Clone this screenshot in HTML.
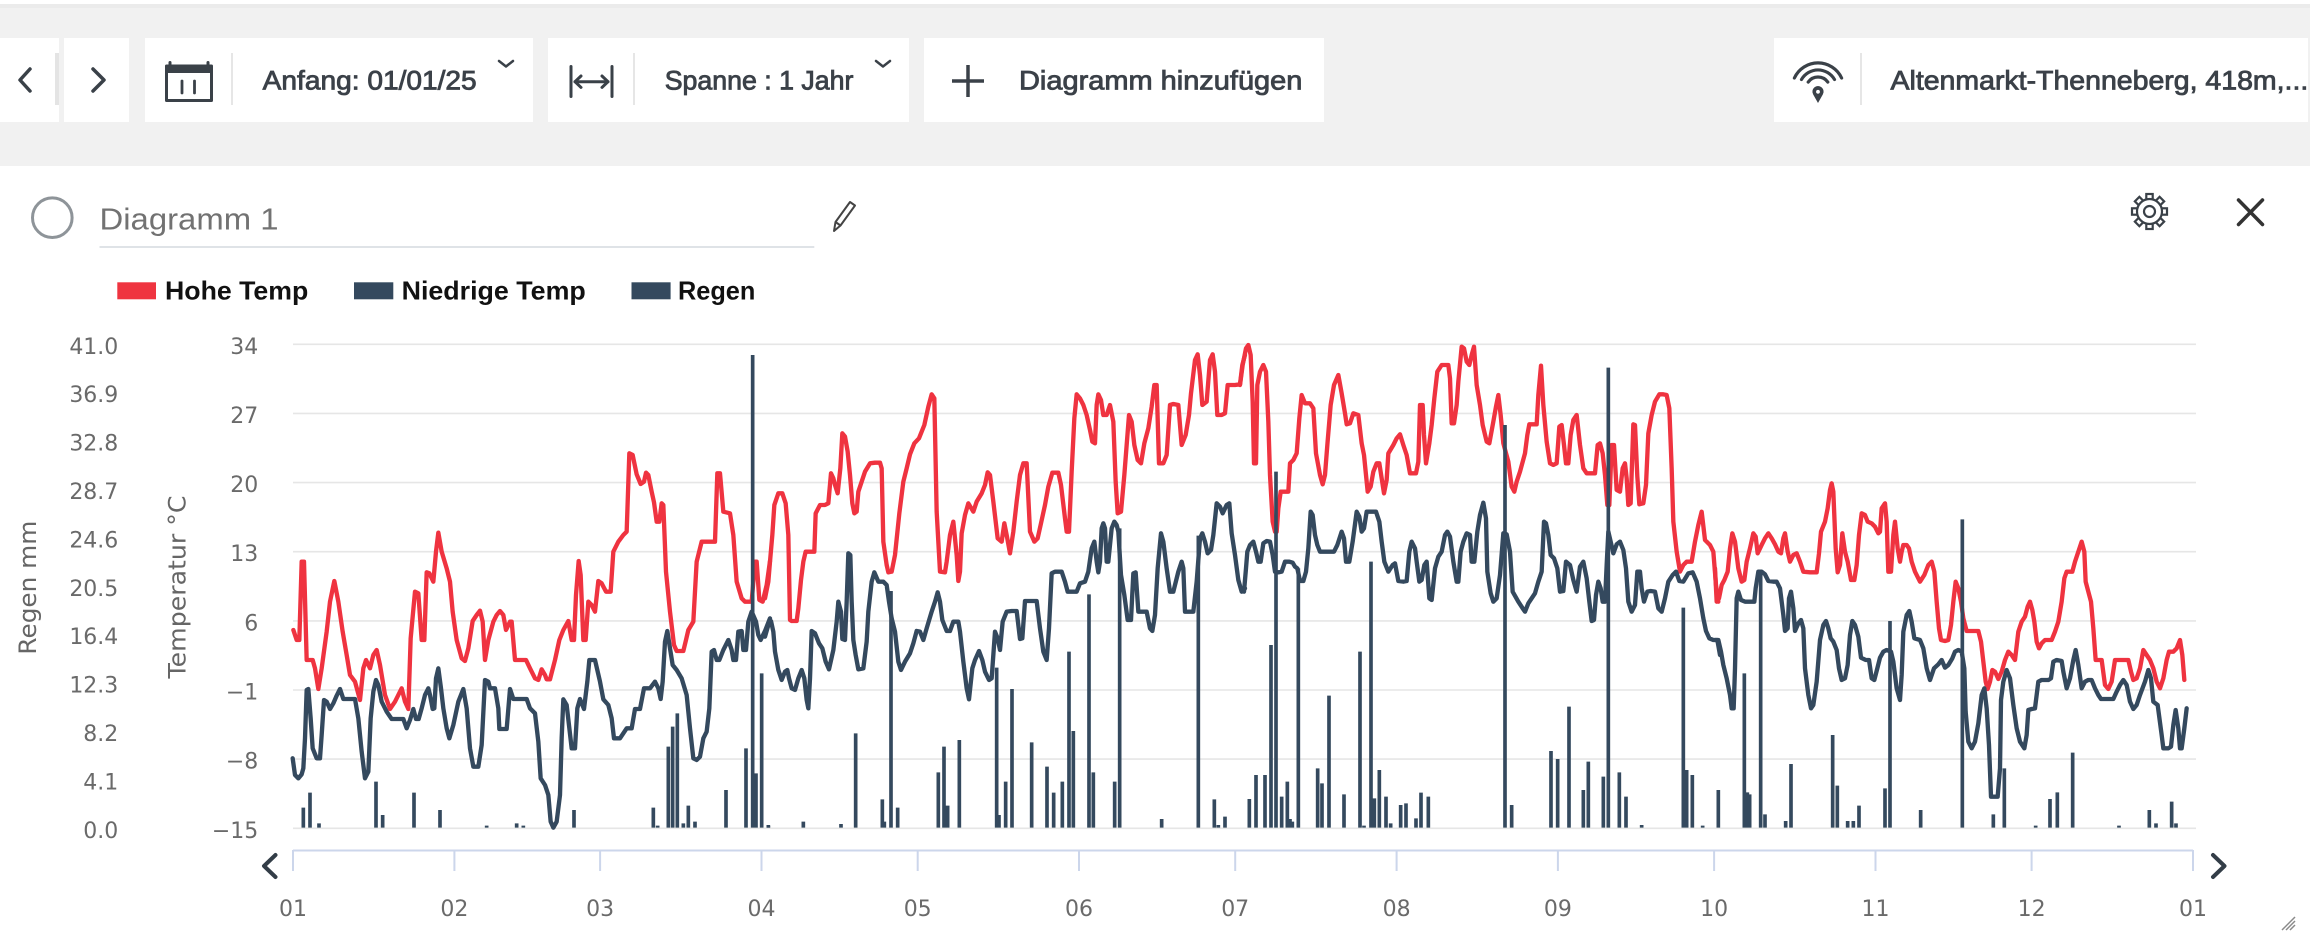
<!DOCTYPE html>
<html><head><meta charset="utf-8"><style>
html,body{margin:0;padding:0;background:#fff;width:2310px;height:937px;overflow:hidden}
svg{display:block}
.tb{font-family:"Liberation Sans",sans-serif;font-size:27px;fill:#3b4148;stroke:#3b4148;stroke-width:0.85}
.lg{font-family:"Liberation Sans",sans-serif;font-size:26px;font-weight:bold;fill:#111}
.ax{font-family:"DejaVu Sans","Liberation Sans",sans-serif;font-size:22px;fill:#6a6a6a}
.ti{font-family:"DejaVu Sans","Liberation Sans",sans-serif;font-size:24px;fill:#666}
</style></head><body>
<svg width="2310" height="937" viewBox="0 0 2310 937" xmlns="http://www.w3.org/2000/svg">
<!-- toolbar band -->
<rect x="0" y="4" width="2310" height="162" fill="#f1f1f1"/>
<rect x="0" y="4" width="2310" height="4" fill="#ebebeb"/>
<rect x="0" y="38" width="59" height="84" fill="#fff"/>
<rect x="55" y="53" width="4" height="52" fill="#e4e4e4"/>
<rect x="64" y="38" width="65" height="84" fill="#fff"/>
<rect x="145" y="38" width="388" height="84" fill="#fff"/>
<rect x="548" y="38" width="361" height="84" fill="#fff"/>
<rect x="924" y="38" width="400" height="84" fill="#fff"/>
<rect x="1774" y="38" width="534" height="84" fill="#fff"/>
<g stroke="#e6e6e6" stroke-width="2">
<line x1="232" y1="53" x2="232" y2="105"/>
<line x1="634" y1="53" x2="634" y2="105"/>
<line x1="1861" y1="53" x2="1861" y2="105"/>
</g>
<g fill="none" stroke="#3a4148" stroke-linecap="round" stroke-linejoin="round">
<polyline points="30,69 20,80 30,91" stroke-width="3.5"/>
<polyline points="93,69 104,80 93,91" stroke-width="3.5"/>
<!-- calendar -->
<rect x="166.5" y="66" width="45" height="34.5" stroke-width="3" stroke-linecap="butt"/>
<rect x="166.5" y="66" width="45" height="7" fill="#3a4148" stroke-width="0"/>
<line x1="170" y1="62.5" x2="170" y2="67" stroke-width="3"/>
<line x1="208" y1="62.5" x2="208" y2="67" stroke-width="3"/>
<line x1="182" y1="81" x2="182" y2="93" stroke-width="2.8"/>
<line x1="194.5" y1="81" x2="194.5" y2="93" stroke-width="2.8"/>
<polyline points="499,61 506,66.5 513,61" stroke-width="2.5"/>
<!-- span icon -->
<line x1="571" y1="66.5" x2="571" y2="96.5" stroke-width="3"/>
<line x1="612" y1="66.5" x2="612" y2="96.5" stroke-width="3"/>
<line x1="575" y1="81.7" x2="608" y2="81.7" stroke-width="3"/>
<polyline points="581,76 575,81.7 581,87.4" stroke-width="3"/>
<polyline points="602,76 608,81.7 602,87.4" stroke-width="3"/>
<polyline points="876,61 883,66.5 890,61" stroke-width="2.5"/>
<!-- plus -->
<line x1="968" y1="65" x2="968" y2="97" stroke-width="3.5" stroke-linecap="butt"/>
<line x1="952" y1="81" x2="984" y2="81" stroke-width="3.5" stroke-linecap="butt"/>
<!-- location -->
<path d="M1794.4 78 A26 26 0 0 1 1841.6 78" stroke-width="3.2"/>
<path d="M1801.5 79.5 A19 19 0 0 1 1834.5 79.5" stroke-width="3.2"/>
<path d="M1808.2 82.1 A12 12 0 0 1 1827.8 82.1" stroke-width="3.2"/>
</g>
<path d="M1818 103 L1813.2 94.5 A5.6 5.6 0 1 1 1822.8 94.5 Z" fill="#3a4148"/>
<circle cx="1818" cy="91.8" r="1.9" fill="#fff"/>
<text class="tb" x="262.7" y="89.3" textLength="214" lengthAdjust="spacingAndGlyphs">Anfang: 01/01/25</text>
<text class="tb" x="664.7" y="89.3" textLength="188.7" lengthAdjust="spacingAndGlyphs">Spanne : 1 Jahr</text>
<text class="tb" x="1019" y="89.3" textLength="283.4" lengthAdjust="spacingAndGlyphs">Diagramm hinzufügen</text>
<text class="tb" x="1890.5" y="89.3" textLength="417.8" lengthAdjust="spacingAndGlyphs">Altenmarkt-Thenneberg, 418m,...</text>

<!-- title row -->
<circle cx="52.3" cy="217.7" r="19.8" fill="none" stroke="#8e9499" stroke-width="3"/>
<text x="99.5" y="229.3" font-family="Liberation Sans, sans-serif" font-size="31" fill="#727272" textLength="179" lengthAdjust="spacingAndGlyphs">Diagramm 1</text>
<line x1="99.5" y1="247" x2="814.3" y2="247" stroke="#dfe3e7" stroke-width="2"/>
<g fill="none" stroke="#444" stroke-width="2" stroke-linejoin="round">
<path d="M834 231 L835.5 222 L850 202 L855 205.5 L840.5 225.5 Z"/>
<line x1="835.5" y1="222" x2="840.5" y2="225.5"/>
</g>
<g transform="translate(2149.5,211.5)" stroke="#3a4148" stroke-width="2.2" fill="#fff">
<rect x="-3.2" y="-17.5" width="6.4" height="7" transform="rotate(0)"/>
<rect x="-3.2" y="-17.5" width="6.4" height="7" transform="rotate(45)"/>
<rect x="-3.2" y="-17.5" width="6.4" height="7" transform="rotate(90)"/>
<rect x="-3.2" y="-17.5" width="6.4" height="7" transform="rotate(135)"/>
<rect x="-3.2" y="-17.5" width="6.4" height="7" transform="rotate(180)"/>
<rect x="-3.2" y="-17.5" width="6.4" height="7" transform="rotate(225)"/>
<rect x="-3.2" y="-17.5" width="6.4" height="7" transform="rotate(270)"/>
<rect x="-3.2" y="-17.5" width="6.4" height="7" transform="rotate(315)"/>
<circle r="12.5" />
<circle r="5.5" fill="none"/>
</g>
<g stroke="#333" stroke-width="3.5" stroke-linecap="round">
<line x1="2238.5" y1="200" x2="2262.5" y2="224.5"/>
<line x1="2262.5" y1="200" x2="2238.5" y2="224.5"/>
</g>

<!-- legend -->
<rect x="117.3" y="282.3" width="38.7" height="17" fill="#ef3440"/>
<text class="lg" x="165" y="299.3" textLength="143.3" lengthAdjust="spacingAndGlyphs">Hohe Temp</text>
<rect x="354" y="282.3" width="39.3" height="17" fill="#34495e"/>
<text class="lg" x="401.6" y="299.3" textLength="184.2" lengthAdjust="spacingAndGlyphs">Niedrige Temp</text>
<rect x="631.5" y="282.3" width="39.1" height="17" fill="#34495e"/>
<text class="lg" x="678" y="299.3" textLength="77.3" lengthAdjust="spacingAndGlyphs">Regen</text>

<!-- gridlines -->
<g stroke="#e6e6e6" stroke-width="1.6">
<line x1="293" y1="344.3" x2="2196" y2="344.3"/>
<line x1="293" y1="413.4" x2="2196" y2="413.4"/>
<line x1="293" y1="482.6" x2="2196" y2="482.6"/>
<line x1="293" y1="551.7" x2="2196" y2="551.7"/>
<line x1="293" y1="620.9" x2="2196" y2="620.9"/>
<line x1="293" y1="690" x2="2196" y2="690"/>
<line x1="293" y1="759.1" x2="2196" y2="759.1"/>
<line x1="293" y1="828.3" x2="2196" y2="828.3"/>
</g>

<!-- axis labels -->
<g class="ax" text-anchor="end">
<text x="118.3" y="353.8">41.0</text>
<text x="118.3" y="402.2">36.9</text>
<text x="118.3" y="450.6">32.8</text>
<text x="118.3" y="499">28.7</text>
<text x="118.3" y="547.4">24.6</text>
<text x="118.3" y="595.8">20.5</text>
<text x="118.3" y="644.2">16.4</text>
<text x="118.3" y="692.6">12.3</text>
<text x="118.3" y="741">8.2</text>
<text x="118.3" y="789.4">4.1</text>
<text x="118.3" y="837.8">0.0</text>
<text x="258.3" y="353.8">34</text>
<text x="258.3" y="422.9">27</text>
<text x="258.3" y="492.1">20</text>
<text x="258.3" y="561.2">13</text>
<text x="258.3" y="630.4">6</text>
<text x="258.3" y="699.5">−1</text>
<text x="258.3" y="768.6">−8</text>
<text x="258.3" y="837.8">−15</text>
</g>
<text class="ti" transform="translate(36,587.6) rotate(-90)" text-anchor="middle" textLength="134" lengthAdjust="spacingAndGlyphs">Regen mm</text>
<text class="ti" transform="translate(185.5,587) rotate(-90)" text-anchor="middle" textLength="183" lengthAdjust="spacingAndGlyphs">Temperatur °C</text>

<!-- data -->
<g fill="none" stroke-linejoin="round" stroke-linecap="round" stroke-width="13">
<g transform="translate(290,335) scale(0.33333)">
<polyline stroke="#ef3340" points="10,885 20,915 28,915 35,680 42,680 50,975 68,975 75,1000 85,1062 95,1000 110,890 120,800 133,738 145,800 158,890 170,960 180,1020 195,1040 210,1095 220,1000 228,975 240,1000 250,960 260,945 270,990 285,1080 300,1122 315,1100 335,1060 345,1100 355,1122 362,910 375,770 385,775 395,915 403,915 410,712 418,715 430,740 438,650 445,593 455,650 470,700 480,740 488,830 500,915 515,970 525,978 535,940 548,858 560,840 570,827 578,860 585,975 595,915 610,860 620,840 630,828 640,840 648,885 660,860 665,860 675,975 690,975 708,975 720,1000 735,1030 745,1035 755,1003 765,1020 770,1033 780,1033 795,975 808,915 820,885 835,858 845,915 852,915 858,780 866,678 872,720 880,915 887,915 895,800 905,810 915,830 925,738 935,745 948,770 962,770 970,650 985,620 1000,600 1010,590 1018,355 1028,360 1040,418 1052,447 1062,440 1068,413 1075,420 1085,470 1092,502 1100,560 1108,560 1115,505 1120,510 1128,710 1140,830 1152,930 1160,948 1170,948 1180,948 1188,915 1195,885 1210,860 1220,680 1235,620 1255,620 1275,620 1282,415 1290,415 1300,530 1320,535 1330,600 1340,740 1355,790 1365,800 1385,800 1395,680 1400,680 1408,795 1418,800 1430,750 1440,678"/>
<polyline stroke="#34495e" points="8,1270 15,1320 25,1330 35,1318 40,1300 45,1210 50,1065 55,1062 62,1150 68,1240 80,1270 90,1270 95,1200 102,1095 110,1100 120,1122 130,1105 140,1082 150,1062 160,1092 175,1092 195,1092 205,1150 215,1250 225,1330 235,1310 242,1150 250,1070 258,1035 265,1050 275,1100 290,1130 305,1152 325,1152 340,1152 350,1180 360,1155 370,1122 378,1152 386,1152 395,1120 405,1080 415,1060 420,1080 428,1122 433,1120 438,1030 445,1000 453,1060 460,1120 470,1180 478,1210 490,1170 505,1100 520,1062 530,1120 540,1240 550,1295 565,1295 575,1230 585,1035 595,1040 600,1060 615,1060 625,1120 628,1182 650,1182 660,1062 670,1092 690,1092 710,1092 720,1120 735,1135 745,1220 752,1330 765,1350 775,1380 782,1460 790,1478 800,1460 810,1380 815,1210 820,1093 830,1110 845,1240 855,1240 862,1120 870,1092 882,1122 892,1040 898,975 915,975 930,1040 940,1093 955,1110 965,1150 972,1210 990,1210 1000,1195 1010,1180 1025,1180 1035,1122 1050,1122 1062,1060 1080,1060 1095,1040 1105,1060 1112,1092 1118,1040 1125,920 1132,888 1140,940 1148,990 1160,1005 1175,1030 1190,1080 1200,1180 1210,1270 1220,1275 1230,1265 1240,1210 1250,1190 1258,1120 1265,950 1272,945 1280,975 1288,975 1300,945 1315,915 1325,945 1330,975 1338,975 1345,890 1355,888 1360,945 1368,945 1375,860 1385,830 1398,860 1405,900 1412,915 1425,888 1440,850"/>
<path stroke="#34495e" stroke-width="11" stroke-linecap="butt" d="M40 1418V1478M60 1373V1478M87 1465V1478M258 1340V1478M278 1440V1478M372 1373V1478M450 1425V1478M590 1472V1478M680 1465V1478M700 1472V1478M852 1425V1478M1090 1418V1478M1103 1472V1478M1135 1235V1478M1148 1175V1478M1162 1135V1478M1180 1465V1478M1195 1412V1478M1215 1460V1478M1308 1365V1478M1368 1240V1478M1388 60V1478M1398 1315V1478M1415 1015V1478M1435 1470V1478"/>
</g>
<g transform="translate(765,335) scale(0.33333)">
<polyline stroke="#ef3340" points="0,790 10,740 15,680 22,600 28,510 40,475 52,475 62,505 70,600 75,855 80,858 95,858 100,820 108,735 115,680 122,650 135,650 148,650 152,535 165,510 180,510 190,505 198,415 205,430 210,450 218,475 226,400 232,295 240,305 248,350 255,420 262,505 268,535 275,530 280,470 290,440 300,410 315,385 330,383 345,383 350,400 355,620 365,690 370,712 380,710 390,660 403,535 415,440 425,400 435,358 448,325 462,310 478,270 490,215 500,178 508,190 515,530 525,710 540,712 545,680 555,600 565,560 575,660 580,738 585,710 590,595 600,540 610,505 625,530 635,500 650,475 660,450 668,412 675,420 685,500 698,610 710,620 718,565 725,600 735,655 745,590 755,500 765,420 775,385 785,385 795,590 808,620 818,610 828,565 840,510 850,455 862,413 880,413 888,450 900,550 905,590 912,590 920,410 928,250 935,178 945,190 955,210 965,240 975,285 982,320 990,325 995,210 1000,178 1008,195 1015,240 1025,240 1035,210 1045,260 1052,440 1058,535 1068,530 1078,420 1092,240 1100,260 1108,330 1118,375 1128,385 1138,325 1150,280 1160,215 1168,150 1175,150 1182,385 1195,385 1205,360 1215,210 1225,207 1240,210 1250,330 1262,300 1272,240 1278,175 1290,75 1298,58 1305,120 1312,210 1325,200 1335,75 1343,58 1350,110 1357,240 1370,240 1380,235 1388,150 1410,150 1425,148 1432,90 1440,60"/>
<polyline stroke="#34495e" points="0,905 10,870 18,858 25,890 30,950 40,1005 50,1035 60,1010 67,1005 72,1030 80,1060 90,1065 100,1030 110,1005 118,1030 125,1095 130,1120 135,1030 140,888 150,895 162,925 172,940 182,980 192,1003 205,945 215,860 220,800 228,830 232,912 240,915 245,800 250,655 256,660 260,800 265,915 272,960 280,1003 295,1000 305,920 310,830 320,740 328,712 340,740 355,740 365,750 372,800 380,850 390,890 400,980 408,1005 420,980 435,955 445,925 455,888 465,890 475,915 485,880 500,830 510,800 518,772 525,800 532,855 545,888 555,888 565,860 580,860 585,890 595,980 605,1060 612,1093 622,1000 630,975 642,948 652,975 660,1010 672,1035 680,1030 690,890 698,910 705,945 713,860 725,830 740,828 755,828 765,912 772,910 780,798 800,798 815,798 825,880 835,950 845,975 852,880 860,715 870,710 890,710 900,740 908,770 920,770 935,770 945,745 960,740 970,710 980,640 988,620 995,680 1000,712 1005,680 1010,580 1015,565 1020,580 1025,680 1030,680 1040,580 1048,560 1055,570 1060,590 1068,720 1078,780 1088,855 1098,855 1105,715 1112,712 1120,830 1135,830 1145,830 1155,880 1162,888 1170,840 1178,700 1188,595 1195,620 1205,700 1215,770 1225,770 1240,710 1250,680 1255,700 1260,830 1270,830 1285,830 1295,740 1305,610 1312,595 1320,620 1328,655 1338,645 1345,600 1355,505 1365,515 1373,535 1385,510 1393,505 1400,595 1410,660 1420,735 1430,770 1440,760"/>
<path stroke="#34495e" stroke-width="11" stroke-linecap="butt" d="M10 1473V1478M115 1460V1478M228 1467V1478M272 1195V1478M352 1393V1478M358 1460V1478M378 768V1478M398 1418V1478M520 1312V1478M537 1235V1478M548 1412V1478M583 1215V1478M695 998V1478M702 1440V1478M722 1340V1478M741 1062V1478M800 1222V1478M846 1295V1478M866 1373V1478M892 1340V1478M912 950V1478M925 1188V1478M972 778V1478M985 1312V1478M1049 1340V1478M1064 580V1478M1190 1452V1478M1300 602V1478M1348 1393V1478M1360 1470V1478M1380 1445V1478"/>
</g>
<g transform="translate(1240,335) scale(0.33333)">
<polyline stroke="#ef3340" points="0,150 8,90 18,40 25,30 32,60 38,200 42,385 48,385 52,150 60,110 70,90 78,110 85,260 90,420 98,560 105,590 110,590 115,520 122,470 135,470 145,470 150,385 160,375 170,355 178,250 185,180 195,205 210,205 220,220 228,355 240,420 248,448 255,420 262,330 272,210 282,150 295,120 305,175 315,235 320,268 330,265 340,235 355,240 365,325 372,360 378,420 383,470 392,455 400,410 410,385 418,385 425,430 432,475 440,435 445,355 460,330 470,310 480,298 490,330 500,360 510,415 528,415 535,380 540,210 548,210 552,300 558,385 568,325 575,270 583,190 592,110 605,90 625,90 630,130 635,265 642,265 650,210 655,140 665,35 672,40 680,80 688,90 695,60 702,35 710,150 720,210 728,270 740,320 748,325 760,260 768,215 775,180 782,240 790,325 805,380 815,455 823,470 830,440 840,410 855,355 862,300 868,268 880,268 890,268 895,180 903,92 910,210 920,320 930,385 940,390 950,385 958,275 965,270 972,330 978,385 985,385 992,300 1000,255 1010,240 1020,330 1030,400 1040,415 1055,415 1065,415 1073,330 1080,325 1088,355 1095,420 1102,510 1108,510 1115,330 1122,330 1130,465 1140,470 1148,400 1155,385 1160,430 1165,510 1172,505 1180,268 1185,270 1192,425 1198,508 1210,505 1218,450 1225,295 1235,240 1245,200 1258,178 1270,178 1280,180 1288,220 1295,400 1300,560 1310,650 1320,710 1330,690 1340,680 1355,680 1365,620 1375,570 1385,530 1395,615 1410,630 1420,650 1428,750 1435,800"/>
<polyline stroke="#34495e" points="5,760 12,770 18,700 22,650 30,630 40,620 48,650 55,680 62,680 70,625 80,618 90,620 98,660 105,710 115,712 125,710 135,680 148,680 158,683 165,695 172,700 180,738 190,738 198,710 205,640 212,530 218,540 225,600 232,630 240,650 260,650 282,650 292,630 305,590 312,610 318,680 328,680 338,620 350,530 358,545 365,590 372,580 380,530 395,530 408,530 418,560 425,620 433,680 445,710 458,690 465,685 475,738 490,740 500,738 508,650 515,620 525,640 530,680 538,740 545,735 553,690 560,680 568,790 575,795 585,700 595,665 605,650 615,600 622,590 630,605 640,680 650,740 655,740 662,650 670,620 680,595 690,600 695,680 703,680 712,590 720,540 730,503 738,550 742,710 752,775 760,800 770,790 780,720 790,595 800,598 810,650 818,770 835,800 848,820 855,830 865,805 875,790 885,775 895,740 905,710 912,560 918,565 925,600 932,660 942,670 952,700 960,770 970,768 978,680 990,690 1000,735 1010,770 1020,695 1030,680 1040,730 1048,800 1055,858 1062,855 1068,780 1075,740 1082,760 1088,800 1095,800 1100,690 1105,590 1112,620 1120,655 1130,628 1140,620 1150,645 1158,700 1165,800 1175,830 1185,810 1192,710 1200,710 1205,760 1212,800 1222,770 1232,768 1245,770 1255,820 1265,830 1275,790 1285,740 1298,720 1308,710 1318,738 1330,740 1345,715 1358,712 1370,740 1380,790 1390,850 1398,888 1408,910 1420,915 1432,915 1440,960"/>
<path stroke="#34495e" stroke-width="11" stroke-linecap="butt" d="M28 1392V1478M48 1320V1478M75 1320V1478M93 930V1478M108 410V1478M125 1385V1478M142 1340V1478M150 1452V1478M157 1460V1478M175 700V1478M233 1300V1478M246 1345V1478M267 1082V1478M312 1378V1478M360 950V1478M372 1472V1478M393 680V1478M403 1390V1478M418 1305V1478M438 1385V1478M452 1465V1478M482 1410V1478M498 1405V1478M528 1450V1478M543 1373V1478M565 1385V1478M795 270V1478M815 1410V1478M933 1248V1478M953 1272V1478M987 1115V1478M1030 1365V1478M1045 1280V1478M1090 1325V1478M1105 98V1478M1138 1312V1478M1158 1385V1478M1205 1470V1478M1330 818V1478M1340 1305V1478M1357 1320V1478M1388 1472V1478M1435 1365V1478"/>
</g>
<g transform="translate(1715,335) scale(0.33333)">
<polyline stroke="#ef3340" points="0,700 5,800 12,790 20,750 28,735 38,710 45,640 52,595 60,620 70,700 80,740 88,735 95,680 105,640 115,595 122,605 128,655 140,630 150,610 160,595 170,610 180,628 190,650 198,655 205,610 210,595 218,650 225,680 235,660 245,655 255,680 265,710 285,712 305,712 312,655 318,590 330,560 338,520 345,465 350,445 355,470 362,640 368,712 375,690 382,595 390,650 398,680 408,735 418,735 425,690 432,600 440,535 450,540 458,560 470,565 480,575 490,595 495,590 500,520 510,505 515,560 520,710 528,710 535,600 540,560 548,640 555,680 560,650 565,630 575,630 582,640 590,680 600,710 615,740 628,720 640,690 650,680 658,710 665,800 672,880 678,915 690,918 700,915 708,870 715,800 722,740 730,760 738,800 745,850 755,888 770,888 790,888 798,920 805,980 812,1040 818,1062 825,1040 832,1005 840,1010 850,1032 860,1010 870,975 880,950 890,960 900,975 910,890 920,860 930,845 938,815 945,800 952,825 958,860 965,920 972,940 980,925 990,915 1010,915 1020,890 1030,860 1040,800 1048,730 1055,710 1072,710 1080,680 1090,650 1100,620 1108,650 1112,740 1120,770 1128,800 1135,880 1142,975 1160,975 1170,1050 1180,1062 1190,1040 1200,975 1215,975 1230,975 1240,975 1248,1010 1255,1035 1265,1030 1275,1000 1285,945 1295,960 1305,975 1315,1000 1325,1040 1335,1060 1345,1030 1355,975 1362,950 1375,950 1385,940 1395,915 1402,960 1408,1035"/>
<polyline stroke="#34495e" points="0,915 10,915 18,950 25,990 35,1030 45,1080 50,1120 56,1120 60,1000 65,790 70,770 78,795 90,800 105,800 118,800 122,760 130,710 140,710 150,718 160,738 175,740 185,740 195,760 205,840 210,888 218,880 222,790 228,770 235,820 240,888 250,865 258,855 265,880 270,1000 280,1080 288,1120 295,1110 305,1040 315,915 325,870 333,858 340,880 347,910 355,920 365,945 372,1000 380,1035 390,1030 398,990 405,900 412,858 420,870 430,905 438,968 452,975 462,975 470,1030 478,1035 487,1000 495,968 505,950 515,945 528,950 535,980 545,1060 555,1095 560,1020 565,890 575,840 583,828 590,860 598,910 615,915 625,940 635,1000 645,1035 657,1000 670,988 680,975 690,998 700,990 712,970 720,950 730,945 740,950 748,1000 752,1130 760,1220 770,1240 780,1220 790,1165 800,1080 808,1060 815,1120 822,1230 828,1385 848,1385 855,1300 858,1095 865,1040 875,1005 885,1030 895,1110 905,1180 915,1220 928,1240 935,1200 940,1125 950,1122 960,1120 970,1040 980,1035 1000,1035 1008,1030 1015,980 1025,975 1040,978 1045,1010 1055,1060 1065,1030 1075,975 1082,945 1090,990 1100,1060 1110,1040 1120,1035 1130,1035 1140,1060 1150,1080 1158,1092 1175,1092 1195,1092 1205,1070 1215,1050 1225,1035 1235,1050 1245,1100 1255,1122 1265,1110 1275,1080 1290,1040 1300,1005 1308,1030 1315,1100 1328,1110 1340,1200 1345,1240 1360,1240 1368,1235 1375,1170 1382,1125 1390,1180 1395,1240 1400,1240 1408,1180 1415,1120"/>
<path stroke="#34495e" stroke-width="11" stroke-linecap="butt" d="M88 1015V1478M97 1372V1478M104 1378V1478M137 705V1478M150 1438V1478M212 1458V1478M228 1287V1478M353 1200V1478M367 1352V1478M398 1458V1478M415 1458V1478M432 1412V1478M510 1360V1478M525 858V1478M617 1425V1478M742 553V1478M835 1438V1478M868 1300V1478M962 1472V1478M1005 1392V1478M1027 1372V1478M1073 1253V1478M1212 1472V1478M1303 1425V1478M1323 1465V1478M1370 1400V1478M1383 1465V1478"/>
</g>
</g>

<!-- x axis -->
<line x1="293" y1="850.5" x2="2193" y2="850.5" stroke="#ccd6eb" stroke-width="2"/>
<g stroke="#ccd6eb" stroke-width="2">
<line x1="293" y1="850" x2="293" y2="871"/>
<line x1="454.4" y1="850" x2="454.4" y2="871"/>
<line x1="600.1" y1="850" x2="600.1" y2="871"/>
<line x1="761.5" y1="850" x2="761.5" y2="871"/>
<line x1="917.7" y1="850" x2="917.7" y2="871"/>
<line x1="1079" y1="850" x2="1079" y2="871"/>
<line x1="1235.2" y1="850" x2="1235.2" y2="871"/>
<line x1="1396.6" y1="850" x2="1396.6" y2="871"/>
<line x1="1557.9" y1="850" x2="1557.9" y2="871"/>
<line x1="1714.1" y1="850" x2="1714.1" y2="871"/>
<line x1="1875.5" y1="850" x2="1875.5" y2="871"/>
<line x1="2031.6" y1="850" x2="2031.6" y2="871"/>
<line x1="2193" y1="850" x2="2193" y2="871"/>
</g>
<g class="ax" text-anchor="middle" font-size="21">
<text x="293" y="916">01</text>
<text x="454.4" y="916">02</text>
<text x="600.1" y="916">03</text>
<text x="761.5" y="916">04</text>
<text x="917.7" y="916">05</text>
<text x="1079" y="916">06</text>
<text x="1235.2" y="916">07</text>
<text x="1396.6" y="916">08</text>
<text x="1557.9" y="916">09</text>
<text x="1714.1" y="916">10</text>
<text x="1875.5" y="916">11</text>
<text x="2031.6" y="916">12</text>
<text x="2193" y="916">01</text>
</g>
<g fill="none" stroke="#333d47" stroke-width="4" stroke-linecap="round" stroke-linejoin="round">
<polyline points="275.5,855 264,866 275.5,877"/>
<polyline points="2213,855 2224.5,866 2213,877"/>
</g>
<g stroke="#8a8a8a" stroke-width="1.5">
<line x1="2282" y1="930" x2="2295" y2="917"/>
<line x1="2286" y1="930" x2="2295" y2="921"/>
<line x1="2290" y1="930" x2="2295" y2="925"/>
</g>
</svg>
</body></html>
